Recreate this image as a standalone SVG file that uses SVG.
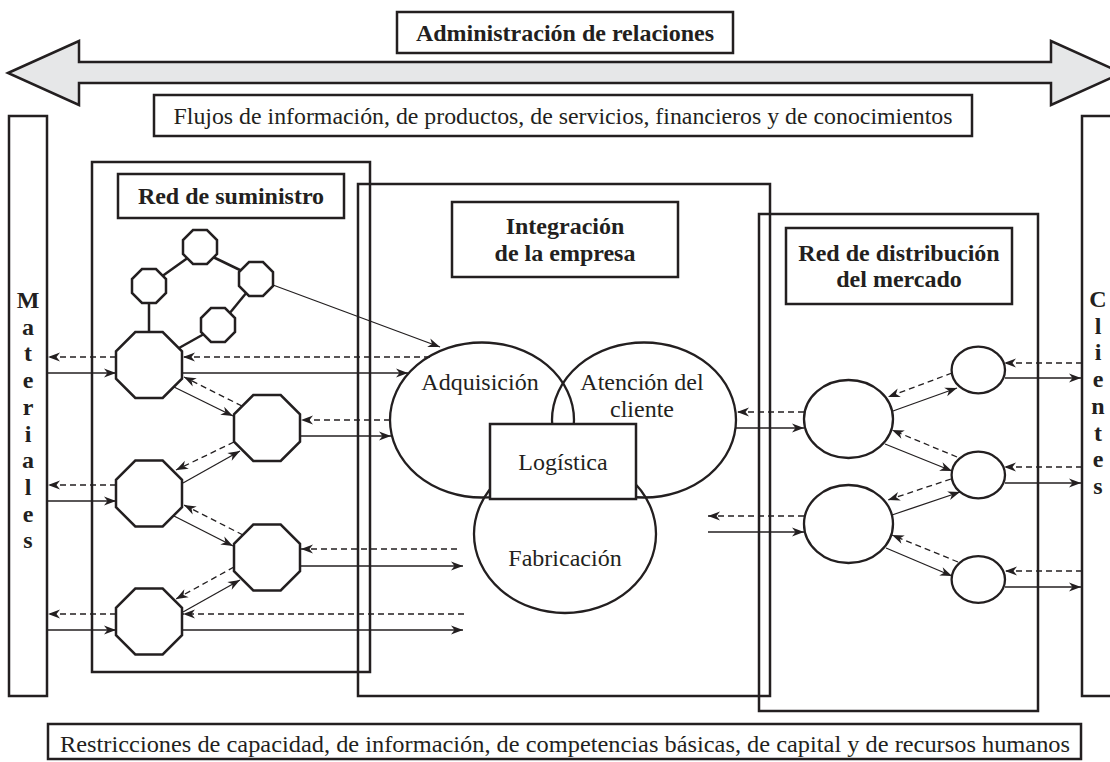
<svg xmlns="http://www.w3.org/2000/svg" xmlns:xlink="http://www.w3.org/1999/xlink" width="1110" height="762" viewBox="0 0 1110 762">
<style>
  .box{fill:none;stroke:#231f20;stroke-width:2.5}
  .lbl{fill:#fff;stroke:#231f20;stroke-width:2.5}
  .oct{fill:#fff;stroke:#231f20;stroke-width:2.5;stroke-linejoin:miter}
  .ell{fill:none;stroke:#231f20;stroke-width:2.3}
  .ellw{fill:#fff;stroke:#231f20;stroke-width:2.3}
  .net{stroke:#231f20;stroke-width:2.5;fill:none}
  .s{stroke:#231f20;stroke-width:1.3;fill:none;marker-end:url(#ah)}
  .d{stroke:#231f20;stroke-width:1.3;fill:none;stroke-dasharray:6 4;marker-end:url(#ah)}
  .t{font-family:"Liberation Serif","Times New Roman",serif;font-size:24px;fill:#231f20;text-anchor:middle}
  .b{font-weight:bold}
</style>
<defs>
  <marker id="ah" markerUnits="userSpaceOnUse" markerWidth="14" markerHeight="12" viewBox="-12 -6 14 12" refX="0" refY="0" orient="auto" overflow="visible">
    <path d="M0,0 L-12,-4.5 L-8.5,0 L-12,4.5 Z" fill="#231f20"/>
  </marker>
  <polygon id="octB" points="-13.7,-33 13.7,-33 33,-13.7 33,13.7 13.7,33 -13.7,33 -33,13.7 -33,-13.7"/>
  <polygon id="octS" points="-7,-17 7,-17 17,-7 17,7 7,17 -7,17 -17,7 -17,-7"/>
</defs>

<g id="relaciones">
  <polygon points="8,73 79,41 79,62 1051,62 1051,41 1122,73 1051,105 1051,83 79,83 79,105" fill="#e6e7e8" stroke="#231f20" stroke-width="2.5" stroke-linejoin="miter"/>
  <rect class="lbl" x="397" y="12" width="336" height="41"/>
  <text class="t b" x="565" y="41">Administración de relaciones</text>
</g>

<g id="flujos">
  <rect class="lbl" x="154" y="95" width="818" height="41"/>
  <text class="t" x="563" y="124" textLength="779" lengthAdjust="spacingAndGlyphs">Flujos de información, de productos, de servicios, financieros y de conocimientos</text>
</g>

<g id="materiales">
  <rect class="box" x="9" y="116" width="38" height="580"/>
  <text class="t b" x="28">
    <tspan x="28" y="308">M</tspan><tspan x="28" y="334.7">a</tspan><tspan x="28" y="361.4">t</tspan><tspan x="28" y="388.1">e</tspan><tspan x="28" y="414.8">r</tspan><tspan x="28" y="441.5">i</tspan><tspan x="28" y="468.2">a</tspan><tspan x="28" y="494.9">l</tspan><tspan x="28" y="521.6">e</tspan><tspan x="28" y="548.3">s</tspan>
  </text>
</g>

<g id="clientes">
  <rect class="box" x="1082" y="116" width="40" height="580"/>
  <text class="t b" x="1098">
    <tspan x="1098" y="307">C</tspan><tspan x="1098" y="333.7">l</tspan><tspan x="1098" y="360.4">i</tspan><tspan x="1098" y="387.1">e</tspan><tspan x="1098" y="413.8">n</tspan><tspan x="1098" y="440.5">t</tspan><tspan x="1098" y="467.2">e</tspan><tspan x="1098" y="493.9">s</tspan>
  </text>
</g>

<g id="red-suministro">
  <rect class="box" x="92" y="162" width="278" height="510"/>
  <rect class="lbl" x="118" y="174" width="226" height="44"/>
  <text class="t b" x="231" y="204">Red de suministro</text>
</g>

<g id="integracion">
  <rect class="box" x="358" y="184" width="412" height="512"/>
  <rect class="lbl" x="452" y="202" width="226" height="75"/>
  <text class="t b" x="565" y="234">Integración</text>
  <text class="t b" x="565" y="261">de la empresa</text>
</g>

<g id="red-distribucion">
  <rect class="box" x="759" y="214" width="279" height="497"/>
  <rect class="lbl" x="786" y="228" width="226" height="76"/>
  <text class="t b" x="899" y="261">Red de distribución</text>
  <text class="t b" x="899" y="287">del mercado</text>
</g>

<g id="proveedores-red">
  <line class="net" x1="149" y1="303" x2="149" y2="332"/>
  <line class="net" x1="161" y1="277" x2="189" y2="257"/>
  <line class="net" x1="213" y1="257" x2="242" y2="271"/>
  <line class="net" x1="247" y1="292" x2="229" y2="314"/>
  <line class="net" x1="204" y1="334" x2="179" y2="348"/>
</g>

<g id="proveedores">
  <use xlink:href="#octS" href="#octS" class="oct" x="200" y="247"/>
  <use xlink:href="#octS" href="#octS" class="oct" x="149" y="286"/>
  <use xlink:href="#octS" href="#octS" class="oct" x="256" y="279"/>
  <use xlink:href="#octS" href="#octS" class="oct" x="218" y="325"/>
  <use xlink:href="#octB" href="#octB" class="oct" x="149" y="365"/>
  <use xlink:href="#octB" href="#octB" class="oct" x="267" y="428"/>
  <use xlink:href="#octB" href="#octB" class="oct" x="149" y="493.5"/>
  <use xlink:href="#octB" href="#octB" class="oct" x="267" y="557.5"/>
  <use xlink:href="#octB" href="#octB" class="oct" x="149" y="621.5"/>
</g>

<g id="empresa">
  <ellipse class="ell" cx="482" cy="420" rx="92" ry="77.5"/>
  <ellipse class="ell" cx="644" cy="420" rx="92" ry="77.5"/>
  <ellipse class="ell" cx="565" cy="534" rx="91" ry="79"/>
  <rect class="lbl" x="490" y="424" width="146" height="75"/>
  <text class="t" x="480" y="390">Adquisición</text>
  <text class="t" x="642" y="390">Atención del</text>
  <text class="t" x="642" y="417">cliente</text>
  <text class="t" x="563" y="470">Logística</text>
  <text class="t" x="565" y="566">Fabricación</text>
</g>

<g id="distribuidores">
  <ellipse class="ellw" cx="848.5" cy="419" rx="44.5" ry="39"/>
  <ellipse class="ellw" cx="848.5" cy="524" rx="44.5" ry="39"/>
  <ellipse class="ellw" cx="978.3" cy="370" rx="26.7" ry="23.3"/>
  <ellipse class="ellw" cx="978.3" cy="475" rx="26.7" ry="23.3"/>
  <ellipse class="ellw" cx="978.3" cy="579.5" rx="26.7" ry="23.3"/>
</g>

<g id="conectores">
  <line class="s" x1="273" y1="285" x2="440" y2="347"/>
  <line class="d" x1="430" y1="357" x2="183" y2="357"/>
  <line class="d" x1="116" y1="357" x2="48" y2="357"/>
  <line class="s" x1="47" y1="373" x2="116" y2="373"/>
  <line class="s" x1="182" y1="373" x2="408" y2="373"/>
  <line class="d" x1="390" y1="420" x2="301" y2="420"/>
  <line class="s" x1="300" y1="436" x2="391" y2="436"/>
  <line class="s" x1="174" y1="387" x2="233" y2="416"/>
  <line class="d" x1="242" y1="406" x2="184" y2="377"/>
  <line class="d" x1="234" y1="442" x2="176" y2="470"/>
  <line class="s" x1="183" y1="483" x2="240" y2="451"/>
  <line class="d" x1="116" y1="485" x2="48" y2="485"/>
  <line class="s" x1="47" y1="501" x2="116" y2="501"/>
  <line class="s" x1="174" y1="516" x2="233" y2="546"/>
  <line class="d" x1="243" y1="535" x2="184" y2="505"/>
  <line class="d" x1="457" y1="549" x2="301" y2="549"/>
  <line class="s" x1="300" y1="566" x2="463" y2="566"/>
  <line class="d" x1="234" y1="567" x2="176" y2="599"/>
  <line class="s" x1="183" y1="612" x2="240" y2="580"/>
  <line class="d" x1="464" y1="614" x2="183" y2="614"/>
  <line class="d" x1="116" y1="614" x2="48" y2="614"/>
  <line class="s" x1="47" y1="630" x2="116" y2="630"/>
  <line class="s" x1="182" y1="630" x2="463" y2="630"/>

  <line class="d" x1="804" y1="412" x2="737" y2="412"/>
  <line class="s" x1="736" y1="428" x2="804" y2="428"/>
  <line class="d" x1="952" y1="373" x2="888" y2="397"/>
  <line class="s" x1="893" y1="411" x2="957" y2="388"/>
  <line class="d" x1="1082" y1="363" x2="1004" y2="363"/>
  <line class="s" x1="1005" y1="378" x2="1081" y2="378"/>
  <line class="d" x1="957" y1="457" x2="892" y2="430"/>
  <line class="s" x1="885" y1="444" x2="952" y2="471"/>
  <line class="d" x1="1082" y1="467" x2="1004" y2="467"/>
  <line class="s" x1="1005" y1="483" x2="1081" y2="483"/>
  <line class="d" x1="951" y1="479" x2="888" y2="500"/>
  <line class="s" x1="892" y1="515" x2="960" y2="492"/>
  <line class="d" x1="804" y1="516" x2="708" y2="516"/>
  <line class="s" x1="708" y1="532" x2="804" y2="532"/>
  <line class="d" x1="958" y1="562" x2="892" y2="535"/>
  <line class="s" x1="886" y1="548" x2="952" y2="576"/>
  <line class="d" x1="1082" y1="571" x2="1005" y2="571"/>
  <line class="s" x1="1005" y1="587" x2="1081" y2="587"/>
</g>

<g id="restricciones">
  <rect class="lbl" x="48" y="724" width="1033" height="35"/>
  <text class="t" x="565" y="752" textLength="1010" lengthAdjust="spacingAndGlyphs">Restricciones de capacidad, de información, de competencias básicas, de capital y de recursos humanos</text>
</g>
</svg>
